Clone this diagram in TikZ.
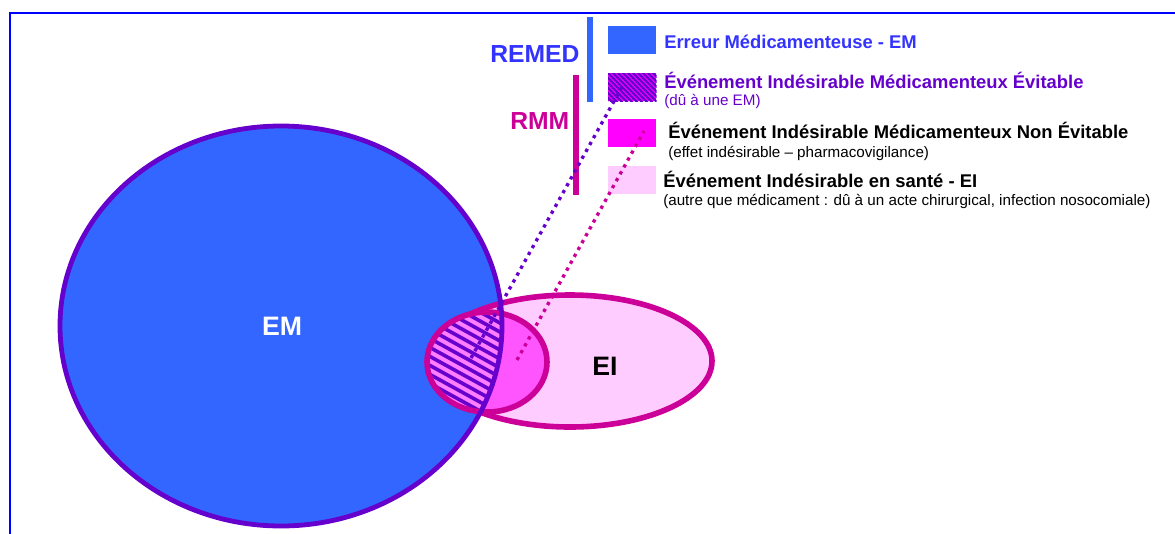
\documentclass[tikz,border=0pt]{standalone}
\usepackage{fontspec}
\setmainfont{Liberation Sans}
\usetikzlibrary{positioning}

\definecolor{emblue}{RGB}{51,102,255}
\definecolor{emline}{RGB}{102,0,204}
\definecolor{remedcol}{RGB}{51,51,255}
\definecolor{eiline}{RGB}{204,0,153}
\definecolor{eifill}{RGB}{255,204,255}
\definecolor{eimfill}{RGB}{255,85,255}
\definecolor{hatchbg}{RGB}{255,125,255}
\definecolor{nevfill}{RGB}{255,0,255}
\definecolor{framecol}{RGB}{0,0,255}

\tikzset{
  swatch/.style={minimum width=36pt, minimum height=21pt, inner sep=0pt, anchor=north west},
  title/.style={font=\fontsize{13.8}{16}\selectfont\bfseries, inner sep=0pt, anchor=base west},
  subtitle/.style={font=\fontsize{11.4}{13}\selectfont, inner sep=0pt, anchor=base west},
  biglabel/.style={font=\fontsize{18.5}{22}\selectfont\bfseries, inner sep=0pt, anchor=base west},
  setlabel/.style={font=\fontsize{20}{24}\selectfont\bfseries, inner sep=0pt, anchor=base},
  linkline/.style={line width=2.5pt, dash pattern=on 2.5pt off 3.4pt}
}

\begin{document}
\begin{tikzpicture}[x=0.75pt, y=-0.75pt]
  \useasboundingbox (0,0) rectangle (1175,533);

  % cadre
  \draw[framecol, line width=1.2pt] (10,545) -- (10,13) -- (1185,13);

  % ensembles
  \fill[emblue] (281,326) ellipse [x radius=221, y radius=200];
  \draw[eiline, fill=eifill, line width=4.2pt] (570,361) ellipse [x radius=142, y radius=66];
  \fill[eimfill] (487,362) ellipse [x radius=60, y radius=50];
  \begin{scope}
    \clip (281,326) ellipse [x radius=221, y radius=200];
    \clip (487,362) ellipse [x radius=60, y radius=50];
    \fill[hatchbg] (420,300) rectangle (520,420);
    \foreach \k in {250,259,...,410}
      \draw[emline, line width=2.7pt] (400,\k) -- +(200,110);
  \end{scope}
  \draw[eiline, line width=4.2pt] (487,362) ellipse [x radius=60, y radius=50];
  \draw[emline, line width=3.6pt] (281,326) ellipse [x radius=221, y radius=200];

  \node[setlabel, text=white] (em) at (282,335) {EM};
  \node[setlabel, text=black] (ei) at (605,375) {EI};

  % barres REMED / RMM
  \node[biglabel, text=remedcol] (remed) at (490,62) {REMED};
  \node[biglabel, text=eiline] (rmm) at (510,129) {RMM};
  \draw[emblue, line width=4.5pt] (590,17) -- (590,102);
  \draw[eiline, line width=4.5pt] (576,75) -- (576,195);

  % legende
  \node[swatch, fill=emblue] (sw-em) at (608,26) {};
  \node[swatch, fill=nevfill] (sw-evit) at (608,73) {};
  \node[swatch, fill=nevfill] (sw-nevit) at (608,119) {};
  \node[swatch, fill=eifill] (sw-ei) at (608,166) {};
  \begin{scope}
    \clip (sw-evit.south west) rectangle (sw-evit.north east);
    \foreach \k in {570,575,...,660}
      \draw[emline, line width=1.8pt] (\k,70) -- +(34,34);
  \end{scope}

  \node[title, text=remedcol] (t-em) at (664,48.5) {Erreur Médicamenteuse - EM};
  \node[title, text=emline] (t-evit) at (664,88) {Événement Indésirable Médicamenteux Évitable};
  \node[subtitle, text=emline, below=12.75pt of t-evit.base west, anchor=base west] (s-evit) {(dû à une EM)};
  \node[title] (t-nevit) at (668,138) {Événement Indésirable Médicamenteux Non Évitable};
  \node[subtitle, below=14.25pt of t-nevit.base west, anchor=base west] (s-nevit) {(effet indésirable – pharmacovigilance)};
  \node[title] (t-ei) at (663,187) {Événement Indésirable en santé - EI};
  \node[subtitle, below=13.5pt of t-ei.base west, anchor=base west] (s-ei) {(autre que médicament : dû à un acte chirurgical, infection nosocomiale)};

  % liens pointilles
  \coordinate (evit-pt) at (471,358);
  \coordinate (evit-end) at (623,85);
  \coordinate (nevit-pt) at (517,360);
  \coordinate (nevit-end) at (644,131);
  \draw[linkline, emline] (evit-pt) -- (evit-end);
  \draw[linkline, eiline] (nevit-pt) -- (nevit-end);
\end{tikzpicture}
\end{document}
